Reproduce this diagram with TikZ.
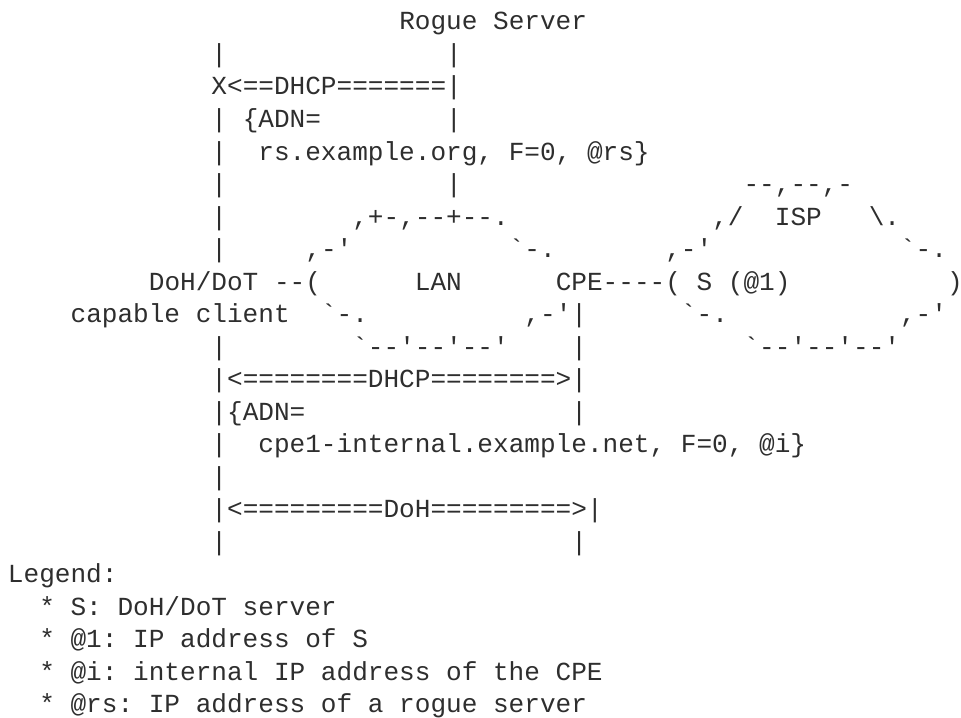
\documentclass[tikz,border=0pt]{standalone}
\usepackage{fontspec}
\setmonofont{Liberation Mono}
\definecolor{ink}{HTML}{2E2E2E}
\tikzset{
  asc/.style={anchor=base west, inner sep=0pt, outer sep=0pt, text=ink,
    font=\ttfamily\fontsize{13.04pt}{16.25pt}\selectfont}
}
\begin{document}
\begin{tikzpicture}
\useasboundingbox (0pt,0pt) rectangle (480.5pt,-358.5pt);
\begin{scope}[shift={(4pt,-15pt)}, x=7.825pt, y=-16.25pt]
% row 0
\node[asc] (rogue) at (25,0) {Rogue Server};
% row 1
\node[asc] (l1) at (13,1) {|};
\node[asc] (r1) at (28,1) {|};
% row 2
\node[asc] (dhcp1) at (13,2) {X<==DHCP=======|};
% row 3
\node[asc] (l3) at (13,3) {|};
\node[asc] (adn1) at (15,3) {\{ADN=};
\node[asc] (r3) at (28,3) {|};
% row 4
\node[asc] (l4) at (13,4) {|};
\node[asc] (rs) at (16,4) {rs.example.org, F=0, @rs\}};
% row 5
\node[asc] (l5) at (13,5) {|};
\node[asc] (r5) at (28,5) {|};
\node[asc] (isp5) at (47,5) {--,--,-};
% row 6
\node[asc] (l6) at (13,6) {|};
\node[asc] (lan6) at (22,6) {,+-,--+--.};
\node[asc] (isp6a) at (45,6) {,/};
\node[asc] (isptxt) at (49,6) {ISP};
\node[asc] (isp6b) at (55,6) {\textbackslash.};
% row 7
\node[asc] (l7) at (13,7) {|};
\node[asc] (lan7a) at (19,7) {,-'};
\node[asc] (lan7b) at (32,7) {`-.};
\node[asc] (isp7a) at (42,7) {,-'};
\node[asc] (isp7b) at (57,7) {`-.};
% row 8
\node[asc] (client) at (9,8) {DoH/DoT --(};
\node[asc] (lan) at (26,8) {LAN};
\node[asc] (cpe) at (35,8) {CPE----( S (@1)};
\node[asc] (isp8) at (60,8) {)};
% row 9
\node[asc] (client2) at (4,9) {capable client};
\node[asc] (lan9a) at (20,9) {`-.};
\node[asc] (lan9b) at (33,9) {,-'|};
\node[asc] (isp9a) at (43,9) {`-.};
\node[asc] (isp9b) at (57,9) {,-'};
% row 10
\node[asc] (l10) at (13,10) {|};
\node[asc] (lan10) at (22,10) {`--'--'--'};
\node[asc] (r10) at (36,10) {|};
\node[asc] (isp10) at (47,10) {`--'--'--'};
% row 11
\node[asc] (dhcp2) at (13,11) {|<========DHCP========>|};
% row 12
\node[asc] (l12) at (13,12) {|\{ADN=};
\node[asc] (r12) at (36,12) {|};
% row 13
\node[asc] (l13) at (13,13) {|};
\node[asc] (cpe1) at (16,13) {cpe1-internal.example.net, F=0, @i\}};
% row 14
\node[asc] (l14) at (13,14) {|};
% row 15
\node[asc] (doh) at (13,15) {|<=========DoH=========>|};
% row 16
\node[asc] (l16) at (13,16) {|};
\node[asc] (r16) at (36,16) {|};
% legend
\node[asc] (legend) at (0,17) {Legend:};
\node[asc] (leg1) at (2,18) {* S: DoH/DoT server};
\node[asc] (leg2) at (2,19) {* @1: IP address of S};
\node[asc] (leg3) at (2,20) {* @i: internal IP address of the CPE};
\node[asc] (leg4) at (2,21) {* @rs: IP address of a rogue server};
\end{scope}
\end{tikzpicture}
\end{document}
